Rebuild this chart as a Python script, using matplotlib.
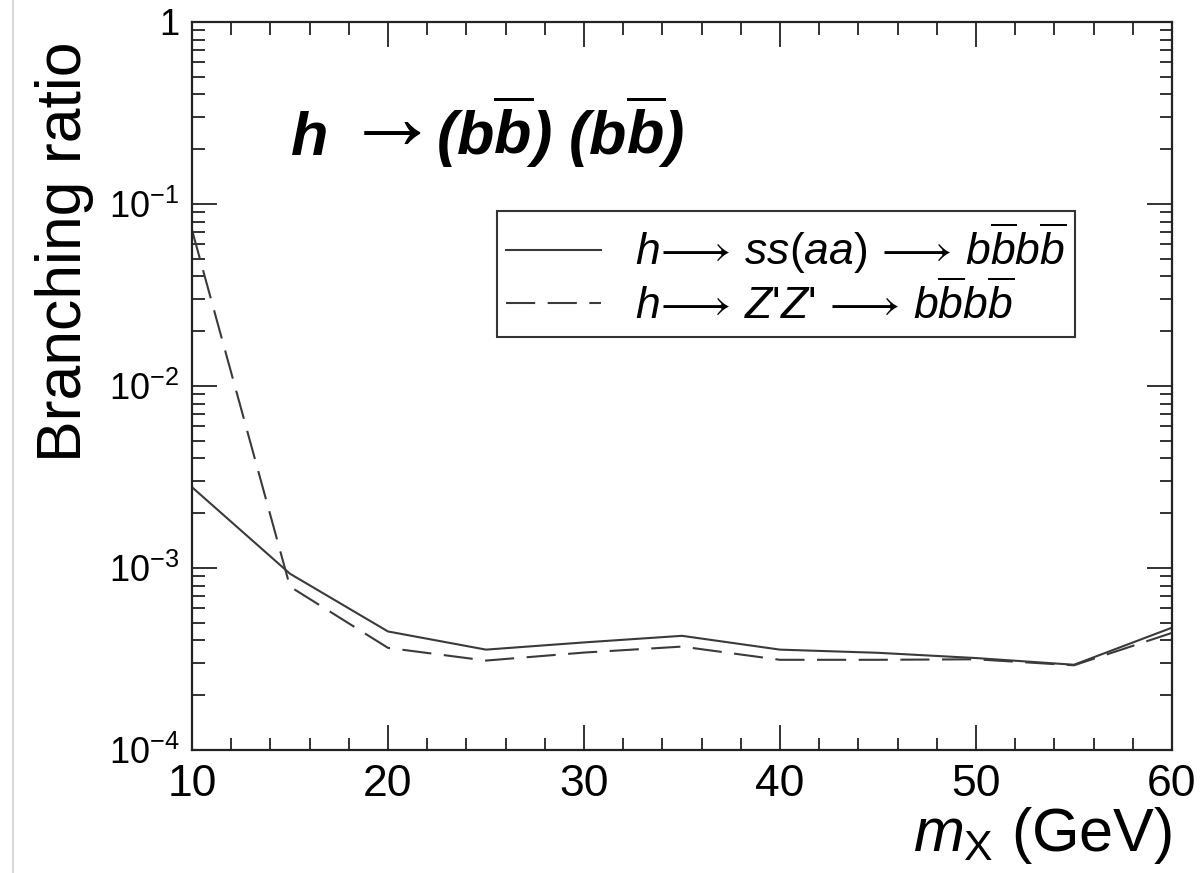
import matplotlib
matplotlib.use("Agg")
import matplotlib.pyplot as plt
from matplotlib.lines import Line2D
from matplotlib.ticker import FixedLocator, LogLocator, NullFormatter, MultipleLocator

plt.rcParams['font.family'] = ['Liberation Sans', 'DejaVu Sans']
plt.rcParams['mathtext.fontset'] = 'custom'
plt.rcParams['mathtext.rm'] = 'Liberation Sans'
plt.rcParams['mathtext.it'] = 'Liberation Sans:italic'
plt.rcParams['mathtext.bf'] = 'Liberation Sans:bold:italic'
plt.rcParams['mathtext.sf'] = 'Liberation Sans'

# ---- data ----
mass = [10, 15, 20, 25, 30, 35, 40, 45, 50, 55, 60]
br_ss = [2.78e-3, 9.3e-4, 4.48e-4, 3.56e-4, 3.9e-4, 4.24e-4, 3.56e-4, 3.42e-4, 3.2e-4, 2.94e-4, 4.7e-4]
br_zz = [7.2e-2, 7.9e-4, 3.64e-4, 3.1e-4, 3.43e-4, 3.7e-4, 3.13e-4, 3.13e-4, 3.15e-4, 2.92e-4, 4.4e-4]
label_ss = r'$h\!\longrightarrow\,ss(aa)\,\longrightarrow\,b\overline{b}b\overline{b}$'
label_zz = r"$h\!\longrightarrow\,Z$'$Z$'$\,\longrightarrow\,b\overline{b}b\overline{b}$"
title_h = r'$\mathbf{h}$'
title_arrow = r'$\rightarrow$'
title_rest = r'$\mathbf{(b\overline{b})\ (b\overline{b})}$'
yticks = [1e-4, 1e-3, 1e-2, 1e-1, 1]
ytick_labels = [r'$10^{-4}$', r'$10^{-3}$', r'$10^{-2}$', r'$10^{-1}$', '1']
xticks = [10, 20, 30, 40, 50, 60]

fig = plt.figure(figsize=(12.03, 8.73), dpi=100)
ax = fig.add_axes([0.1596, 0.1409, 0.8146, 0.8339])

col = '#3a3a3a'
ax.plot(mass, br_ss, color=col, lw=1.5, ls='-', label=label_ss)
ax.plot(mass, br_zz, color=col, lw=1.5, ls=(0, (14, 6)), label=label_zz)

ax.set_yscale('log')
ax.set_xlim(10, 60)
ax.set_ylim(1e-4, 1)

ax.xaxis.set_major_locator(FixedLocator(xticks))
ax.xaxis.set_minor_locator(MultipleLocator(2))
ax.set_xticklabels([str(v) for v in xticks])
ax.yaxis.set_major_locator(FixedLocator(yticks))
ax.set_yticklabels(ytick_labels)
ax.yaxis.set_minor_locator(LogLocator(base=10, subs=range(2, 10), numticks=20))
ax.yaxis.set_minor_formatter(NullFormatter())

ax.tick_params(which='both', direction='in', top=True, right=True, color='#222222', width=1.3)
ax.tick_params(which='major', length=18)
ax.tick_params(which='minor', length=9)
ax.tick_params(axis='x', which='major', labelsize=32, pad=10)
ax.tick_params(axis='y', which='major', labelsize=26, pad=9)
for s in ax.spines.values():
    s.set_linewidth(1.6)
    s.set_color('#222222')

ax.set_ylabel('Branching ratio', fontsize=45)
ax.yaxis.set_label_coords(-0.1, 0.685)
ax.set_xlabel(r'$m_{\mathrm{X}}$ (GeV)', fontsize=44, ha='right')
ax.xaxis.set_label_coords(1.0, -0.075)

ty = 0.817
ax.text(0.1, ty, title_h, transform=ax.transAxes, fontsize=44, ha='left', va='baseline')
ax.text(0.14, ty + 0.01, title_arrow, transform=ax.transAxes, fontsize=68, ha='left', va='baseline')
ax.text(0.249, ty, title_rest, transform=ax.transAxes, fontsize=44, ha='left', va='baseline')

leg = ax.legend(loc='upper left', bbox_to_anchor=(0.311, 0.74), fontsize=32, frameon=True,
                fancybox=False, edgecolor='#333333', framealpha=1, handlelength=2.15,
                handletextpad=0.75, borderpad=0.2, labelspacing=0.1, borderaxespad=0)
leg.get_frame().set_linewidth(1.5)

fig.add_artist(Line2D([0.0105, 0.0105], [0, 1], color='#d0d0d0', lw=1.2, transform=fig.transFigure))

fig.savefig('out.png', dpi=100)
